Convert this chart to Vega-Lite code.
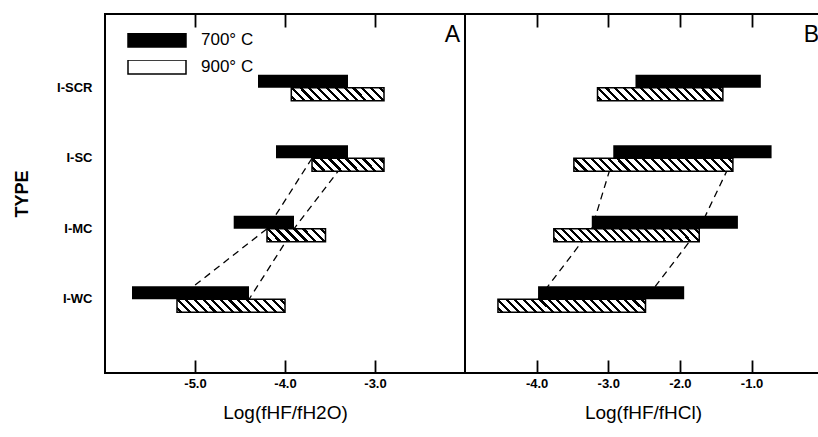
{
"$schema": "https://vega.github.io/schema/vega-lite/v6.json",
"padding": {"left": 12, "top": 13, "right": 0, "bottom": 0},
"background": "white",
"spacing": 0,
"bounds": "flush",
"data": {"values": [
{"panel":"A","type":"I-SCR","temp":"700° C","lo":-4.30,"hi":-3.30},
{"panel":"A","type":"I-SCR","temp":"900° C","lo":-3.93,"hi":-2.90},
{"panel":"A","type":"I-SC","temp":"700° C","lo":-4.10,"hi":-3.30},
{"panel":"A","type":"I-SC","temp":"900° C","lo":-3.70,"hi":-2.90},
{"panel":"A","type":"I-MC","temp":"700° C","lo":-4.57,"hi":-3.90},
{"panel":"A","type":"I-MC","temp":"900° C","lo":-4.20,"hi":-3.55},
{"panel":"A","type":"I-WC","temp":"700° C","lo":-5.70,"hi":-4.40},
{"panel":"A","type":"I-WC","temp":"900° C","lo":-5.20,"hi":-4.00},
{"panel":"B","type":"I-SCR","temp":"700° C","lo":-2.62,"hi":-0.87},
{"panel":"B","type":"I-SCR","temp":"900° C","lo":-3.15,"hi":-1.40},
{"panel":"B","type":"I-SC","temp":"700° C","lo":-2.93,"hi":-0.72},
{"panel":"B","type":"I-SC","temp":"900° C","lo":-3.48,"hi":-1.26},
{"panel":"B","type":"I-MC","temp":"700° C","lo":-3.23,"hi":-1.19},
{"panel":"B","type":"I-MC","temp":"900° C","lo":-3.76,"hi":-1.73},
{"panel":"B","type":"I-WC","temp":"700° C","lo":-3.98,"hi":-1.94},
{"panel":"B","type":"I-WC","temp":"900° C","lo":-4.54,"hi":-2.48}
]},
"hconcat": [
{
"width": 360, "height": 359,
"transform": [{"filter": "datum.panel === 'A'"}],
"title": {"text": "A", "anchor": "end", "offset": -33, "fontSize": 23, "fontWeight": "normal", "dx": -5},
"encoding": {
"y": {"field": "type", "type": "nominal", "scale": {"domain": ["I-SCR","I-SC","I-MC","I-WC"], "paddingInner": 0.63, "paddingOuter": 0.86},
"axis": {"title": "TYPE", "titleFontSize": 18, "titleFontWeight": "bold", "titlePadding": 25, "labelFontSize": 13, "labelFontWeight": "bold", "labelPadding": 13, "ticks": false, "domain": false, "grid": false}}
},
"layer": [
{"transform": [{"filter": "datum.temp === '900° C' && datum.type !== 'I-SCR'"}],
"mark": {"type": "line", "stroke": "black", "strokeWidth": 1.3, "strokeDash": [7,5]},
"encoding": {"x": {"field": "lo", "type": "quantitative", "scale": {"domain": [-6,-2], "nice": false, "zero": false}}}},
{"transform": [{"filter": "datum.temp === '700° C' && datum.type !== 'I-SCR'"}],
"mark": {"type": "line", "stroke": "black", "strokeWidth": 1.3, "strokeDash": [7,5]},
"encoding": {"x": {"field": "hi", "type": "quantitative", "scale": {"domain": [-6,-2], "nice": false, "zero": false}}}},
{"transform": [{"filter": "datum.temp === '700° C'"}],
"mark": {"type": "bar"},
"encoding": {
"x": {"field": "lo", "type": "quantitative", "scale": {"domain": [-6,-2], "nice": false, "zero": false},
"axis": {"values": [-5,-4,-3], "labelExpr": "'-' + format(abs(datum.value), '.1f')", "ticks": false, "grid": true, "gridColor": "black", "gridOpacity": 1, "gridWidth": 1.8, "gridDash": [13,333,13,1000], "labelPadding": 4, "labelFontSize": 13, "labelFontWeight": "bold", "title": "Log(fHF/fH2O)", "titleFontSize": 19, "titleFontWeight": "normal", "titlePadding": 13, "domain": false}},
"x2": {"field": "hi"},
"yOffset": {"field": "temp", "type": "nominal", "scale": {"domain": ["700° C","900° C"], "paddingInner": 0, "paddingOuter": 0}},
"fill": {"field": "temp", "type": "nominal", "scale": {"domain": ["700° C","900° C"], "range": ["black","white"]},
"legend": {"orient": "none", "legendX": 22, "legendY": 19, "direction": "vertical", "title": null, "symbolType": "M-1,-0.24H1V0.24H-1Z", "symbolSize": 3364, "clipHeight": 14, "rowPadding": 10, "labelOffset": 14, "labelFontSize": 17, "labelColor": "black", "padding": 0, "symbolStrokeWidth": 1.5, "symbolStrokeColor": "black"}}
}},
{"transform": [{"filter": "datum.temp === '900° C' && datum.type === 'I-SCR'"}],
"mark": {"type": "bar", "stroke": "black", "strokeWidth": 1.5, "fill": {"gradient": "linear", "x1": 0, "y1": 1, "x2": 1.118, "y2": 0.843, "stops": [
{"offset":0,"color":"#fff"},
{"offset":0.0267,"color":"#fff"},{"offset":0.0267,"color":"#000"},{"offset":0.0567,"color":"#000"},{"offset":0.0567,"color":"#fff"},
{"offset":0.11,"color":"#fff"},{"offset":0.11,"color":"#000"},{"offset":0.14,"color":"#000"},{"offset":0.14,"color":"#fff"},
{"offset":0.1933,"color":"#fff"},{"offset":0.1933,"color":"#000"},{"offset":0.2233,"color":"#000"},{"offset":0.2233,"color":"#fff"},
{"offset":0.2767,"color":"#fff"},{"offset":0.2767,"color":"#000"},{"offset":0.3067,"color":"#000"},{"offset":0.3067,"color":"#fff"},
{"offset":0.36,"color":"#fff"},{"offset":0.36,"color":"#000"},{"offset":0.39,"color":"#000"},{"offset":0.39,"color":"#fff"},
{"offset":0.4433,"color":"#fff"},{"offset":0.4433,"color":"#000"},{"offset":0.4733,"color":"#000"},{"offset":0.4733,"color":"#fff"},
{"offset":0.5267,"color":"#fff"},{"offset":0.5267,"color":"#000"},{"offset":0.5567,"color":"#000"},{"offset":0.5567,"color":"#fff"},
{"offset":0.61,"color":"#fff"},{"offset":0.61,"color":"#000"},{"offset":0.64,"color":"#000"},{"offset":0.64,"color":"#fff"},
{"offset":0.6933,"color":"#fff"},{"offset":0.6933,"color":"#000"},{"offset":0.7233,"color":"#000"},{"offset":0.7233,"color":"#fff"},
{"offset":0.7767,"color":"#fff"},{"offset":0.7767,"color":"#000"},{"offset":0.8067,"color":"#000"},{"offset":0.8067,"color":"#fff"},
{"offset":0.86,"color":"#fff"},{"offset":0.86,"color":"#000"},{"offset":0.89,"color":"#000"},{"offset":0.89,"color":"#fff"},
{"offset":0.9433,"color":"#fff"},{"offset":0.9433,"color":"#000"},{"offset":0.9733,"color":"#000"},{"offset":0.9733,"color":"#fff"},
{"offset":1,"color":"#fff"}]}},
"encoding": {
"x": {"field": "lo", "type": "quantitative", "scale": {"domain": [-6,-2], "nice": false, "zero": false}},
"x2": {"field": "hi"},
"yOffset": {"field": "temp", "type": "nominal", "scale": {"domain": ["700° C","900° C"], "paddingInner": 0, "paddingOuter": 0}}}},
{"transform": [{"filter": "datum.temp === '900° C' && datum.type === 'I-SC'"}],
"mark": {"type": "bar", "stroke": "black", "strokeWidth": 1.5, "fill": {"gradient": "linear", "x1": 0, "y1": 1, "x2": 1.143, "y2": 0.794, "stops": [
{"offset":0,"color":"#fff"},
{"offset":0.032,"color":"#fff"},{"offset":0.032,"color":"#000"},{"offset":0.068,"color":"#000"},{"offset":0.068,"color":"#fff"},
{"offset":0.132,"color":"#fff"},{"offset":0.132,"color":"#000"},{"offset":0.168,"color":"#000"},{"offset":0.168,"color":"#fff"},
{"offset":0.232,"color":"#fff"},{"offset":0.232,"color":"#000"},{"offset":0.268,"color":"#000"},{"offset":0.268,"color":"#fff"},
{"offset":0.332,"color":"#fff"},{"offset":0.332,"color":"#000"},{"offset":0.368,"color":"#000"},{"offset":0.368,"color":"#fff"},
{"offset":0.432,"color":"#fff"},{"offset":0.432,"color":"#000"},{"offset":0.468,"color":"#000"},{"offset":0.468,"color":"#fff"},
{"offset":0.532,"color":"#fff"},{"offset":0.532,"color":"#000"},{"offset":0.568,"color":"#000"},{"offset":0.568,"color":"#fff"},
{"offset":0.632,"color":"#fff"},{"offset":0.632,"color":"#000"},{"offset":0.668,"color":"#000"},{"offset":0.668,"color":"#fff"},
{"offset":0.732,"color":"#fff"},{"offset":0.732,"color":"#000"},{"offset":0.768,"color":"#000"},{"offset":0.768,"color":"#fff"},
{"offset":0.832,"color":"#fff"},{"offset":0.832,"color":"#000"},{"offset":0.868,"color":"#000"},{"offset":0.868,"color":"#fff"},
{"offset":0.932,"color":"#fff"},{"offset":0.932,"color":"#000"},{"offset":0.968,"color":"#000"},{"offset":0.968,"color":"#fff"},
{"offset":1,"color":"#fff"}]}},
"encoding": {
"x": {"field": "lo", "type": "quantitative", "scale": {"domain": [-6,-2], "nice": false, "zero": false}},
"x2": {"field": "hi"},
"yOffset": {"field": "temp", "type": "nominal", "scale": {"domain": ["700° C","900° C"], "paddingInner": 0, "paddingOuter": 0}}}},
{"transform": [{"filter": "datum.temp === '900° C' && datum.type === 'I-MC'"}],
"mark": {"type": "bar", "stroke": "black", "strokeWidth": 1.5, "fill": {"gradient": "linear", "x1": 0, "y1": 1, "x2": 1.165, "y2": 0.741, "stops": [
{"offset":0,"color":"#fff"},
{"offset":0.04,"color":"#fff"},{"offset":0.04,"color":"#000"},{"offset":0.085,"color":"#000"},{"offset":0.085,"color":"#fff"},
{"offset":0.165,"color":"#fff"},{"offset":0.165,"color":"#000"},{"offset":0.21,"color":"#000"},{"offset":0.21,"color":"#fff"},
{"offset":0.29,"color":"#fff"},{"offset":0.29,"color":"#000"},{"offset":0.335,"color":"#000"},{"offset":0.335,"color":"#fff"},
{"offset":0.415,"color":"#fff"},{"offset":0.415,"color":"#000"},{"offset":0.46,"color":"#000"},{"offset":0.46,"color":"#fff"},
{"offset":0.54,"color":"#fff"},{"offset":0.54,"color":"#000"},{"offset":0.585,"color":"#000"},{"offset":0.585,"color":"#fff"},
{"offset":0.665,"color":"#fff"},{"offset":0.665,"color":"#000"},{"offset":0.71,"color":"#000"},{"offset":0.71,"color":"#fff"},
{"offset":0.79,"color":"#fff"},{"offset":0.79,"color":"#000"},{"offset":0.835,"color":"#000"},{"offset":0.835,"color":"#fff"},
{"offset":0.915,"color":"#fff"},{"offset":0.915,"color":"#000"},{"offset":0.96,"color":"#000"},{"offset":0.96,"color":"#fff"},
{"offset":1,"color":"#fff"}]}},
"encoding": {
"x": {"field": "lo", "type": "quantitative", "scale": {"domain": [-6,-2], "nice": false, "zero": false}},
"x2": {"field": "hi"},
"yOffset": {"field": "temp", "type": "nominal", "scale": {"domain": ["700° C","900° C"], "paddingInner": 0, "paddingOuter": 0}}}},
{"transform": [{"filter": "datum.temp === '900° C' && datum.type === 'I-WC'"}],
"mark": {"type": "bar", "stroke": "black", "strokeWidth": 1.5, "fill": {"gradient": "linear", "x1": 0, "y1": 1, "x2": 1.104, "y2": 0.867, "stops": [
{"offset":0,"color":"#fff"},
{"offset":0.0229,"color":"#fff"},{"offset":0.0229,"color":"#000"},{"offset":0.0486,"color":"#000"},{"offset":0.0486,"color":"#fff"},
{"offset":0.0943,"color":"#fff"},{"offset":0.0943,"color":"#000"},{"offset":0.12,"color":"#000"},{"offset":0.12,"color":"#fff"},
{"offset":0.1657,"color":"#fff"},{"offset":0.1657,"color":"#000"},{"offset":0.1914,"color":"#000"},{"offset":0.1914,"color":"#fff"},
{"offset":0.2371,"color":"#fff"},{"offset":0.2371,"color":"#000"},{"offset":0.2629,"color":"#000"},{"offset":0.2629,"color":"#fff"},
{"offset":0.3086,"color":"#fff"},{"offset":0.3086,"color":"#000"},{"offset":0.3343,"color":"#000"},{"offset":0.3343,"color":"#fff"},
{"offset":0.38,"color":"#fff"},{"offset":0.38,"color":"#000"},{"offset":0.4057,"color":"#000"},{"offset":0.4057,"color":"#fff"},
{"offset":0.4514,"color":"#fff"},{"offset":0.4514,"color":"#000"},{"offset":0.4771,"color":"#000"},{"offset":0.4771,"color":"#fff"},
{"offset":0.5229,"color":"#fff"},{"offset":0.5229,"color":"#000"},{"offset":0.5486,"color":"#000"},{"offset":0.5486,"color":"#fff"},
{"offset":0.5943,"color":"#fff"},{"offset":0.5943,"color":"#000"},{"offset":0.62,"color":"#000"},{"offset":0.62,"color":"#fff"},
{"offset":0.6657,"color":"#fff"},{"offset":0.6657,"color":"#000"},{"offset":0.6914,"color":"#000"},{"offset":0.6914,"color":"#fff"},
{"offset":0.7371,"color":"#fff"},{"offset":0.7371,"color":"#000"},{"offset":0.7629,"color":"#000"},{"offset":0.7629,"color":"#fff"},
{"offset":0.8086,"color":"#fff"},{"offset":0.8086,"color":"#000"},{"offset":0.8343,"color":"#000"},{"offset":0.8343,"color":"#fff"},
{"offset":0.88,"color":"#fff"},{"offset":0.88,"color":"#000"},{"offset":0.9057,"color":"#000"},{"offset":0.9057,"color":"#fff"},
{"offset":0.9514,"color":"#fff"},{"offset":0.9514,"color":"#000"},{"offset":0.9771,"color":"#000"},{"offset":0.9771,"color":"#fff"},
{"offset":1,"color":"#fff"}]}},
"encoding": {
"x": {"field": "lo", "type": "quantitative", "scale": {"domain": [-6,-2], "nice": false, "zero": false}},
"x2": {"field": "hi"},
"yOffset": {"field": "temp", "type": "nominal", "scale": {"domain": ["700° C","900° C"], "paddingInner": 0, "paddingOuter": 0}}}}
]
},
{
"width": 356, "height": 359,
"transform": [{"filter": "datum.panel === 'B'"}],
"title": {"text": "B", "anchor": "end", "offset": -33, "fontSize": 23, "fontWeight": "normal", "dx": -2},
"encoding": {
"y": {"field": "type", "type": "nominal", "scale": {"domain": ["I-SCR","I-SC","I-MC","I-WC"], "paddingInner": 0.63, "paddingOuter": 0.86}, "axis": null}
},
"layer": [
{"transform": [{"filter": "datum.temp === '700° C' && datum.type !== 'I-SCR'"}],
"mark": {"type": "line", "stroke": "black", "strokeWidth": 1.3, "strokeDash": [7,5]},
"encoding": {"x": {"field": "lo", "type": "quantitative", "scale": {"domain": [-5,-0.03], "nice": false, "zero": false}}}},
{"transform": [{"filter": "datum.temp === '900° C' && datum.type !== 'I-SCR'"}],
"mark": {"type": "line", "stroke": "black", "strokeWidth": 1.3, "strokeDash": [7,5]},
"encoding": {"x": {"field": "hi", "type": "quantitative", "scale": {"domain": [-5,-0.03], "nice": false, "zero": false}}}},
{"transform": [{"filter": "datum.temp === '700° C'"}],
"mark": {"type": "bar", "fill": "black"},
"encoding": {
"x": {"field": "lo", "type": "quantitative", "scale": {"domain": [-5,-0.03], "nice": false, "zero": false},
"axis": {"values": [-4,-3,-2,-1], "labelExpr": "'-' + format(abs(datum.value), '.1f')", "ticks": false, "grid": true, "gridColor": "black", "gridOpacity": 1, "gridWidth": 1.8, "gridDash": [13,333,13,1000], "labelPadding": 4, "labelFontSize": 13, "labelFontWeight": "bold", "title": "Log(fHF/fHCl)", "titleFontSize": 19, "titleFontWeight": "normal", "titlePadding": 13, "domain": false}},
"x2": {"field": "hi"},
"yOffset": {"field": "temp", "type": "nominal", "scale": {"domain": ["700° C","900° C"], "paddingInner": 0, "paddingOuter": 0}}}},
{"transform": [{"filter": "datum.temp === '900° C' && datum.type === 'I-SCR'"}],
"mark": {"type": "bar", "stroke": "black", "strokeWidth": 1.5, "fill": {"gradient": "linear", "x1": 0, "y1": 1, "x2": 1.092, "y2": 0.887, "stops": [
{"offset":0,"color":"#fff"},
{"offset":0.02,"color":"#fff"},{"offset":0.02,"color":"#000"},{"offset":0.0425,"color":"#000"},{"offset":0.0425,"color":"#fff"},
{"offset":0.0825,"color":"#fff"},{"offset":0.0825,"color":"#000"},{"offset":0.105,"color":"#000"},{"offset":0.105,"color":"#fff"},
{"offset":0.145,"color":"#fff"},{"offset":0.145,"color":"#000"},{"offset":0.1675,"color":"#000"},{"offset":0.1675,"color":"#fff"},
{"offset":0.2075,"color":"#fff"},{"offset":0.2075,"color":"#000"},{"offset":0.23,"color":"#000"},{"offset":0.23,"color":"#fff"},
{"offset":0.27,"color":"#fff"},{"offset":0.27,"color":"#000"},{"offset":0.2925,"color":"#000"},{"offset":0.2925,"color":"#fff"},
{"offset":0.3325,"color":"#fff"},{"offset":0.3325,"color":"#000"},{"offset":0.355,"color":"#000"},{"offset":0.355,"color":"#fff"},
{"offset":0.395,"color":"#fff"},{"offset":0.395,"color":"#000"},{"offset":0.4175,"color":"#000"},{"offset":0.4175,"color":"#fff"},
{"offset":0.4575,"color":"#fff"},{"offset":0.4575,"color":"#000"},{"offset":0.48,"color":"#000"},{"offset":0.48,"color":"#fff"},
{"offset":0.52,"color":"#fff"},{"offset":0.52,"color":"#000"},{"offset":0.5425,"color":"#000"},{"offset":0.5425,"color":"#fff"},
{"offset":0.5825,"color":"#fff"},{"offset":0.5825,"color":"#000"},{"offset":0.605,"color":"#000"},{"offset":0.605,"color":"#fff"},
{"offset":0.645,"color":"#fff"},{"offset":0.645,"color":"#000"},{"offset":0.6675,"color":"#000"},{"offset":0.6675,"color":"#fff"},
{"offset":0.7075,"color":"#fff"},{"offset":0.7075,"color":"#000"},{"offset":0.73,"color":"#000"},{"offset":0.73,"color":"#fff"},
{"offset":0.77,"color":"#fff"},{"offset":0.77,"color":"#000"},{"offset":0.7925,"color":"#000"},{"offset":0.7925,"color":"#fff"},
{"offset":0.8325,"color":"#fff"},{"offset":0.8325,"color":"#000"},{"offset":0.855,"color":"#000"},{"offset":0.855,"color":"#fff"},
{"offset":0.895,"color":"#fff"},{"offset":0.895,"color":"#000"},{"offset":0.9175,"color":"#000"},{"offset":0.9175,"color":"#fff"},
{"offset":0.9575,"color":"#fff"},{"offset":0.9575,"color":"#000"},{"offset":0.98,"color":"#000"},{"offset":0.98,"color":"#fff"},
{"offset":1,"color":"#fff"}]}},
"encoding": {
"x": {"field": "lo", "type": "quantitative", "scale": {"domain": [-5,-0.03], "nice": false, "zero": false}},
"x2": {"field": "hi"},
"yOffset": {"field": "temp", "type": "nominal", "scale": {"domain": ["700° C","900° C"], "paddingInner": 0, "paddingOuter": 0}}}},
{"transform": [{"filter": "datum.temp === '900° C' && datum.type === 'I-SC'"}],
"mark": {"type": "bar", "stroke": "black", "strokeWidth": 1.5, "fill": {"gradient": "linear", "x1": 0, "y1": 1, "x2": 1.075, "y2": 0.912, "stops": [
{"offset":0,"color":"#fff"},
{"offset":0.016,"color":"#fff"},{"offset":0.016,"color":"#000"},{"offset":0.034,"color":"#000"},{"offset":0.034,"color":"#fff"},
{"offset":0.066,"color":"#fff"},{"offset":0.066,"color":"#000"},{"offset":0.084,"color":"#000"},{"offset":0.084,"color":"#fff"},
{"offset":0.116,"color":"#fff"},{"offset":0.116,"color":"#000"},{"offset":0.134,"color":"#000"},{"offset":0.134,"color":"#fff"},
{"offset":0.166,"color":"#fff"},{"offset":0.166,"color":"#000"},{"offset":0.184,"color":"#000"},{"offset":0.184,"color":"#fff"},
{"offset":0.216,"color":"#fff"},{"offset":0.216,"color":"#000"},{"offset":0.234,"color":"#000"},{"offset":0.234,"color":"#fff"},
{"offset":0.266,"color":"#fff"},{"offset":0.266,"color":"#000"},{"offset":0.284,"color":"#000"},{"offset":0.284,"color":"#fff"},
{"offset":0.316,"color":"#fff"},{"offset":0.316,"color":"#000"},{"offset":0.334,"color":"#000"},{"offset":0.334,"color":"#fff"},
{"offset":0.366,"color":"#fff"},{"offset":0.366,"color":"#000"},{"offset":0.384,"color":"#000"},{"offset":0.384,"color":"#fff"},
{"offset":0.416,"color":"#fff"},{"offset":0.416,"color":"#000"},{"offset":0.434,"color":"#000"},{"offset":0.434,"color":"#fff"},
{"offset":0.466,"color":"#fff"},{"offset":0.466,"color":"#000"},{"offset":0.484,"color":"#000"},{"offset":0.484,"color":"#fff"},
{"offset":0.516,"color":"#fff"},{"offset":0.516,"color":"#000"},{"offset":0.534,"color":"#000"},{"offset":0.534,"color":"#fff"},
{"offset":0.566,"color":"#fff"},{"offset":0.566,"color":"#000"},{"offset":0.584,"color":"#000"},{"offset":0.584,"color":"#fff"},
{"offset":0.616,"color":"#fff"},{"offset":0.616,"color":"#000"},{"offset":0.634,"color":"#000"},{"offset":0.634,"color":"#fff"},
{"offset":0.666,"color":"#fff"},{"offset":0.666,"color":"#000"},{"offset":0.684,"color":"#000"},{"offset":0.684,"color":"#fff"},
{"offset":0.716,"color":"#fff"},{"offset":0.716,"color":"#000"},{"offset":0.734,"color":"#000"},{"offset":0.734,"color":"#fff"},
{"offset":0.766,"color":"#fff"},{"offset":0.766,"color":"#000"},{"offset":0.784,"color":"#000"},{"offset":0.784,"color":"#fff"},
{"offset":0.816,"color":"#fff"},{"offset":0.816,"color":"#000"},{"offset":0.834,"color":"#000"},{"offset":0.834,"color":"#fff"},
{"offset":0.866,"color":"#fff"},{"offset":0.866,"color":"#000"},{"offset":0.884,"color":"#000"},{"offset":0.884,"color":"#fff"},
{"offset":0.916,"color":"#fff"},{"offset":0.916,"color":"#000"},{"offset":0.934,"color":"#000"},{"offset":0.934,"color":"#fff"},
{"offset":0.966,"color":"#fff"},{"offset":0.966,"color":"#000"},{"offset":0.984,"color":"#000"},{"offset":0.984,"color":"#fff"},
{"offset":1,"color":"#fff"}]}},
"encoding": {
"x": {"field": "lo", "type": "quantitative", "scale": {"domain": [-5,-0.03], "nice": false, "zero": false}},
"x2": {"field": "hi"},
"yOffset": {"field": "temp", "type": "nominal", "scale": {"domain": ["700° C","900° C"], "paddingInner": 0, "paddingOuter": 0}}}},
{"transform": [{"filter": "datum.temp === '900° C' && (datum.type === 'I-MC' || datum.type === 'I-WC')"}],
"mark": {"type": "bar", "stroke": "black", "strokeWidth": 1.5, "fill": {"gradient": "linear", "x1": 0, "y1": 1, "x2": 1.080, "y2": 0.904, "stops": [
{"offset":0,"color":"#fff"},
{"offset":0.0168,"color":"#fff"},{"offset":0.0168,"color":"#000"},{"offset":0.0358,"color":"#000"},{"offset":0.0358,"color":"#fff"},
{"offset":0.0695,"color":"#fff"},{"offset":0.0695,"color":"#000"},{"offset":0.0884,"color":"#000"},{"offset":0.0884,"color":"#fff"},
{"offset":0.1221,"color":"#fff"},{"offset":0.1221,"color":"#000"},{"offset":0.1411,"color":"#000"},{"offset":0.1411,"color":"#fff"},
{"offset":0.1747,"color":"#fff"},{"offset":0.1747,"color":"#000"},{"offset":0.1937,"color":"#000"},{"offset":0.1937,"color":"#fff"},
{"offset":0.2274,"color":"#fff"},{"offset":0.2274,"color":"#000"},{"offset":0.2463,"color":"#000"},{"offset":0.2463,"color":"#fff"},
{"offset":0.28,"color":"#fff"},{"offset":0.28,"color":"#000"},{"offset":0.2989,"color":"#000"},{"offset":0.2989,"color":"#fff"},
{"offset":0.3326,"color":"#fff"},{"offset":0.3326,"color":"#000"},{"offset":0.3516,"color":"#000"},{"offset":0.3516,"color":"#fff"},
{"offset":0.3853,"color":"#fff"},{"offset":0.3853,"color":"#000"},{"offset":0.4042,"color":"#000"},{"offset":0.4042,"color":"#fff"},
{"offset":0.4379,"color":"#fff"},{"offset":0.4379,"color":"#000"},{"offset":0.4568,"color":"#000"},{"offset":0.4568,"color":"#fff"},
{"offset":0.4905,"color":"#fff"},{"offset":0.4905,"color":"#000"},{"offset":0.5095,"color":"#000"},{"offset":0.5095,"color":"#fff"},
{"offset":0.5432,"color":"#fff"},{"offset":0.5432,"color":"#000"},{"offset":0.5621,"color":"#000"},{"offset":0.5621,"color":"#fff"},
{"offset":0.5958,"color":"#fff"},{"offset":0.5958,"color":"#000"},{"offset":0.6147,"color":"#000"},{"offset":0.6147,"color":"#fff"},
{"offset":0.6484,"color":"#fff"},{"offset":0.6484,"color":"#000"},{"offset":0.6674,"color":"#000"},{"offset":0.6674,"color":"#fff"},
{"offset":0.7011,"color":"#fff"},{"offset":0.7011,"color":"#000"},{"offset":0.72,"color":"#000"},{"offset":0.72,"color":"#fff"},
{"offset":0.7537,"color":"#fff"},{"offset":0.7537,"color":"#000"},{"offset":0.7726,"color":"#000"},{"offset":0.7726,"color":"#fff"},
{"offset":0.8063,"color":"#fff"},{"offset":0.8063,"color":"#000"},{"offset":0.8253,"color":"#000"},{"offset":0.8253,"color":"#fff"},
{"offset":0.8589,"color":"#fff"},{"offset":0.8589,"color":"#000"},{"offset":0.8779,"color":"#000"},{"offset":0.8779,"color":"#fff"},
{"offset":0.9116,"color":"#fff"},{"offset":0.9116,"color":"#000"},{"offset":0.9305,"color":"#000"},{"offset":0.9305,"color":"#fff"},
{"offset":0.9642,"color":"#fff"},{"offset":0.9642,"color":"#000"},{"offset":0.9832,"color":"#000"},{"offset":0.9832,"color":"#fff"},
{"offset":1,"color":"#fff"}]}},
"encoding": {
"x": {"field": "lo", "type": "quantitative", "scale": {"domain": [-5,-0.03], "nice": false, "zero": false}},
"x2": {"field": "hi"},
"yOffset": {"field": "temp", "type": "nominal", "scale": {"domain": ["700° C","900° C"], "paddingInner": 0, "paddingOuter": 0}}}}
]
}
],
"config": {
"font": "Liberation Sans",
"view": {"stroke": "black", "strokeWidth": 2},
"axis": {"labelColor": "black", "titleColor": "black", "tickColor": "black", "labelFont": "Liberation Sans", "titleFont": "Liberation Sans"},
"title": {"color": "black", "font": "Liberation Sans"},
"legend": {"labelFont": "Liberation Sans", "labelColor": "black"}
}
}
